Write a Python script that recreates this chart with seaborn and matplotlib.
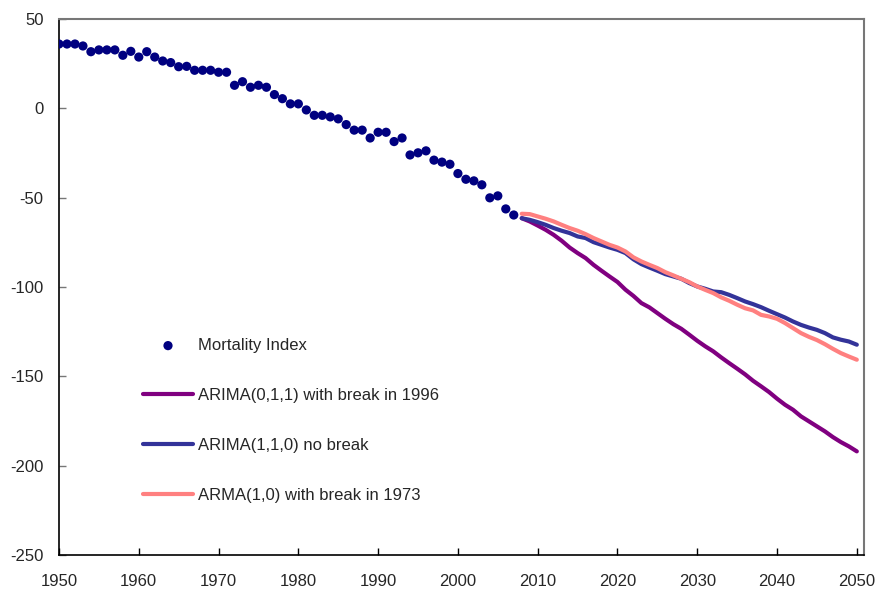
import matplotlib
matplotlib.use("Agg")
import matplotlib.pyplot as plt
import seaborn as sns
import pandas as pd
import numpy as np

# ---------------- data ----------------
hist_years = list(range(1950, 2008))
mortality_index = [
    36.0, 36.0, 36.0, 34.9, 31.7, 32.7, 32.7, 32.7, 29.7, 31.9,
    28.7, 31.7, 28.7, 26.5, 25.6, 23.3, 23.5, 21.3, 21.3, 21.3,
    20.2, 20.2, 12.9, 14.9, 11.8, 12.9, 11.8, 7.7, 5.4, 2.5,
    2.5, -0.9, -3.9, -3.9, -4.8, -5.9, -9.1, -12.2, -12.2, -16.6,
    -13.4, -13.4, -18.6, -16.6, -26.1, -24.9, -23.8, -29.0, -30.1, -31.3,
    -36.5, -39.7, -40.6, -42.8, -50.1, -49.0, -56.3, -59.7,
]

fc_years = list(range(2008, 2051))
arima011_break1996 = [
    -61.5, -63.3, -65.6, -68.0, -70.8, -74.1, -77.9, -81.0, -83.8, -87.6,
    -90.9, -94.1, -97.2, -101.5, -105.0, -109.0, -111.4, -114.6, -117.8, -120.8,
    -123.4, -126.7, -130.1, -133.2, -136.0, -139.4, -142.6, -145.7, -148.9, -152.5,
    -155.6, -158.8, -162.5, -165.9, -168.7, -172.4, -175.2, -178.0, -180.8, -184.0,
    -186.8, -189.2, -192.0,
]
arima110_nobreak = [
    -61.5, -62.4, -63.7, -65.2, -67.0, -68.5, -69.8, -71.7, -72.6, -74.9,
    -76.4, -77.9, -79.2, -81.0, -84.5, -87.2, -89.1, -90.9, -92.8, -94.1,
    -95.4, -97.8, -99.7, -101.0, -102.5, -102.9, -104.4, -106.2, -108.1, -109.6,
    -111.3, -113.3, -115.2, -117.1, -119.3, -121.2, -122.7, -124.0, -125.8, -128.2,
    -129.5, -130.5, -132.3,
]
arma10_break1973 = [
    -59.0, -59.2, -60.5, -61.8, -63.3, -65.2, -67.0, -68.5, -70.4, -72.6,
    -74.5, -76.4, -77.9, -80.1, -83.4, -85.7, -87.6, -89.4, -91.7, -93.5,
    -95.4, -97.3, -99.7, -101.6, -103.4, -105.8, -107.7, -109.9, -111.9, -113.1,
    -115.6, -116.5, -117.8, -120.2, -123.0, -125.8, -127.9, -129.7, -132.0, -134.6,
    -137.0, -138.9, -140.7,
]

series_labels = ["ARIMA(0,1,1) with break in 1996",
                 "ARIMA(1,1,0) no break",
                 "ARMA(1,0) with break in 1973"]
series_colors = ["#800080", "#333399", "#FF8080"]
hist_label = "Mortality Index"

x_ticks = list(range(1950, 2051, 10))
y_ticks = list(range(-250, 51, 50))

# ---------------- plotting ----------------
sns.set_style("white")
plt.rcParams["font.family"] = ["Liberation Sans", "DejaVu Sans"]
plt.rcParams["axes.unicode_minus"] = False

fig = plt.figure(figsize=(8.82, 5.92), dpi=100)
ax = fig.add_axes([59 / 882, 1 - 555 / 592, (864 - 59) / 882, (555 - 19) / 592])

hist_df = pd.DataFrame({"year": hist_years, "value": mortality_index})
fc_df = pd.concat([
    pd.DataFrame({"year": fc_years, "value": vals, "model": lab})
    for vals, lab in zip([arima011_break1996, arima110_nobreak, arma10_break1973], series_labels)
])

for lab, col in zip(series_labels, series_colors):
    sns.lineplot(data=fc_df[fc_df["model"] == lab], x="year", y="value",
                 color=col, linewidth=3.0, ax=ax, label=lab, zorder=2)

sns.scatterplot(data=hist_df, x="year", y="value", color="#000080", s=44,
                edgecolor="none", ax=ax, label=hist_label, zorder=3)

ax.set_xlim(1950, 2050.9)
ax.set_ylim(-250, 50)
ax.set_xticks(x_ticks)
ax.set_yticks(y_ticks)
ax.set_xlabel("")
ax.set_ylabel("")

for side in ["left", "bottom"]:
    ax.spines[side].set_color("black")
    ax.spines[side].set_linewidth(1.2)
for side in ["top", "right"]:
    ax.spines[side].set_visible(True)
    ax.spines[side].set_color("#777777")
    ax.spines[side].set_linewidth(1.5)

ax.tick_params(axis="x", direction="in", length=5, width=1, color="black",
               pad=14, labelsize=12, bottom=True)
ax.tick_params(axis="y", direction="in", length=5, width=1, color="#777777",
               pad=11, labelsize=12, left=True)

handles, labels = ax.get_legend_handles_labels()
order = [labels.index(hist_label)] + [labels.index(l) for l in series_labels]
ax.legend([handles[i] for i in order], [labels[i] for i in order],
          loc="upper left", bbox_to_anchor=((143 - 59) / 805, (555 - 338) / 536),
          frameon=False, fontsize=12, handlelength=3.0, handletextpad=0.3,
          labelspacing=2.1, borderaxespad=0, borderpad=0)

fig.savefig("out.png", dpi=100)
